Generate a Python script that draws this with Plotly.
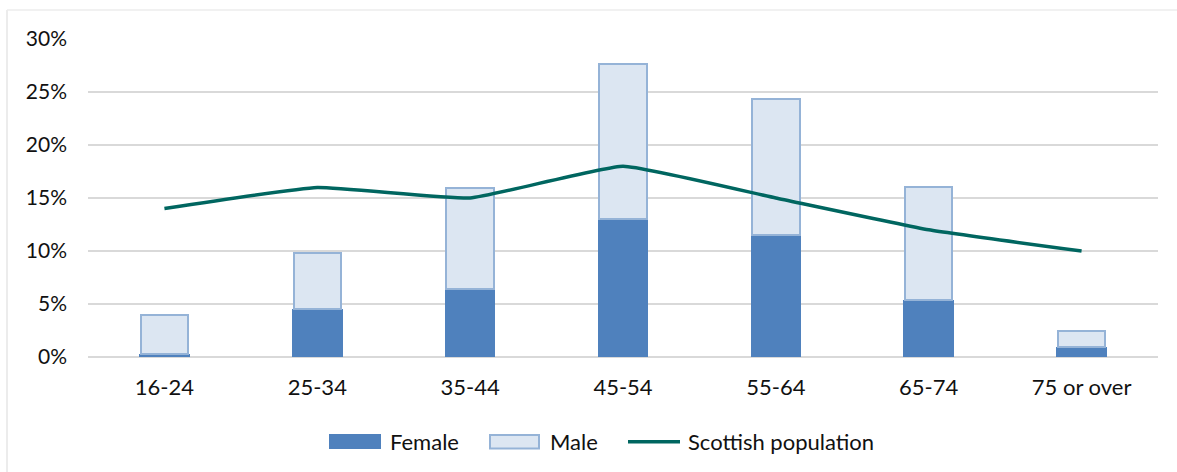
import plotly.graph_objects as go

# Age bands and shares (%)
age_groups = ["16-24", "25-34", "35-44", "45-54", "55-64", "65-74", "75 or over"]
female = [0.3, 4.5, 6.4, 13.0, 11.5, 5.4, 0.9]
male = [3.7, 5.3, 9.5, 14.6, 12.8, 10.6, 1.6]
scottish_population = [14.0, 16.0, 15.0, 18.0, 15.0, 12.0, 10.0]
y_ticks = [0, 5, 10, 15, 20, 25, 30]
y_tick_text = ["0%", "5%", "10%", "15%", "20%", "25%", "30%"]

FEMALE_FILL = "#4F81BD"
MALE_FILL = "#DCE6F2"
MALE_EDGE = "#95B3D7"
LINE_COLOR = "#006660"
GRID = "#D9D9D9"
FONT = "Lato, Carlito, Calibri, sans-serif"

W, H = 1177, 472
L, R, T, B = 88, 19, 39, 115

fig = go.Figure()
fig.add_trace(go.Bar(
    x=age_groups, y=female, name="Female",
    marker=dict(color=FEMALE_FILL, line=dict(width=0)),
    width=0.33, showlegend=False,
))
fig.add_trace(go.Bar(
    x=age_groups, y=male, name="Male",
    marker=dict(color=MALE_FILL, line=dict(color=MALE_EDGE, width=2)),
    width=0.31, showlegend=False,
))
fig.add_trace(go.Scatter(
    x=age_groups, y=scottish_population, name="Scottish population",
    mode="lines", line=dict(color=LINE_COLOR, width=3.5, shape="spline", smoothing=0.35),
    showlegend=False,
))

# paper-coordinate helpers (plot area spans L..W-R horizontally, T..H-B vertically)
pw, ph = W - L - R, H - T - B
def px(x):
    return (x - L) / pw
def py(y):
    return (H - B - y) / ph

LEG_Y = 441.7
shapes = [
    # chart frame (left and top edges)
    dict(type="line", xref="paper", yref="paper", x0=px(7), x1=px(7), y0=py(480), y1=py(10),
         line=dict(color="#E6E6E6", width=1.5)),
    dict(type="line", xref="paper", yref="paper", x0=px(7), x1=px(1190), y0=py(10), y1=py(10),
         line=dict(color="#EDEDED", width=1.5)),
    # legend swatches
    dict(type="rect", xref="paper", yref="paper", x0=px(329), x1=px(381), y0=py(449), y1=py(434),
         fillcolor=FEMALE_FILL, line=dict(width=0)),
    dict(type="rect", xref="paper", yref="paper", x0=px(490), x1=px(539), y0=py(448.5), y1=py(435),
         fillcolor=MALE_FILL, line=dict(color=MALE_EDGE, width=2)),
    dict(type="line", xref="paper", yref="paper", x0=px(628), x1=px(680), y0=py(LEG_Y), y1=py(LEG_Y),
         line=dict(color=LINE_COLOR, width=3.5)),
]

annotations = []
for label, x0 in [("Female", 388), ("Male", 548), ("Scottish population", 686)]:
    annotations.append(dict(
        text=label, xref="paper", yref="paper", x=px(x0), y=py(LEG_Y),
        xanchor="left", yanchor="middle", showarrow=False,
        font=dict(family=FONT, size=22, color="#111111"),
    ))

fig.update_layout(
    width=W, height=H,
    margin=dict(l=L, r=R, t=T, b=B),
    paper_bgcolor="white", plot_bgcolor="white",
    barmode="stack", bargap=0.67,
    font=dict(family=FONT, size=21, color="#111111"),
    shapes=shapes, annotations=annotations,
    showlegend=False,
)
fig.update_xaxes(
    showgrid=False, showline=False, zeroline=False, ticks="",
    tickfont=dict(size=22), ticklabelstandoff=15,
)
fig.update_yaxes(
    range=[0, 30], tickvals=y_ticks, ticktext=y_tick_text,
    showgrid=True, gridcolor=GRID, gridwidth=2,
    zeroline=True, zerolinecolor=GRID, zerolinewidth=2,
    showline=False, ticks="", ticklabelstandoff=20,
    tickfont=dict(size=21),
)

fig.write_html("out.html")
